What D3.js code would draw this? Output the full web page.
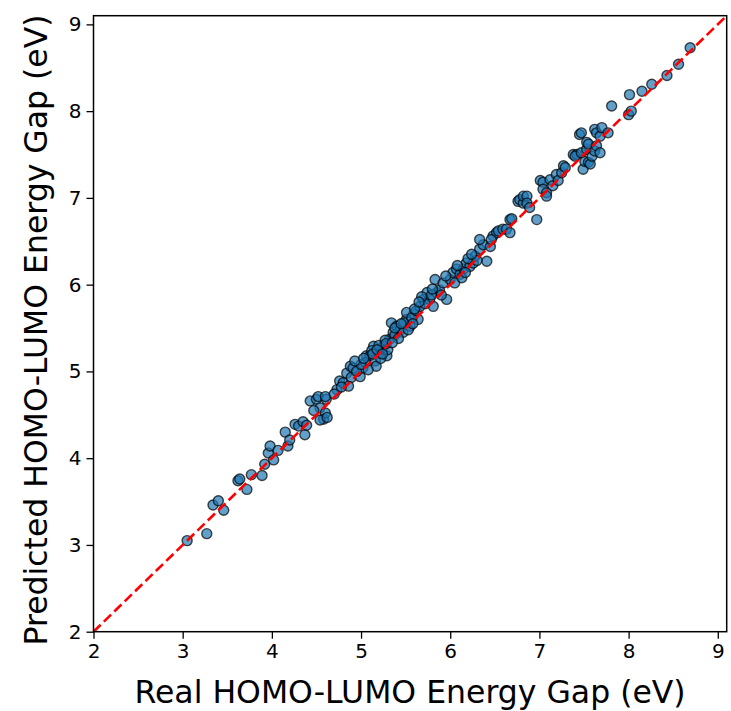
<!DOCTYPE html>
<html>
<head>
<meta charset="utf-8">
<script src="https://cdn.jsdelivr.net/npm/d3@7"></script>
<style>
  html, body { margin: 0; padding: 0; background: #fff; }
  svg { display: block; }
  text { font-family: "DejaVu Sans", sans-serif; fill: #000; }
</style>
</head>
<body>
<div id="chart"></div>
<script>
// ---- data ----
const realGap = [
  3.05, 3.27, 3.34, 3.40, 3.46, 3.62, 3.64, 3.72, 3.77, 3.89,
  3.92, 3.96, 3.98, 4.02, 4.07, 4.15, 4.18, 4.20, 4.26, 4.30,
  4.35, 4.37, 4.39, 4.43, 4.50, 4.52, 4.54, 4.58, 4.60, 4.61,
  4.60, 4.54, 4.62, 4.73, 4.76, 4.80, 4.84, 4.88, 4.91, 4.89,
  4.86, 4.99, 5.02, 5.06, 5.10, 5.16, 5.17, 5.14, 5.21, 5.25,
  5.29, 5.32, 5.36, 5.34, 5.40, 5.05, 5.12, 5.20, 5.27, 5.30,
  5.22, 5.38, 5.44, 5.47, 5.51, 5.55, 5.59, 5.51, 5.64, 5.48,
  5.42, 5.53, 5.57, 5.62, 5.66, 5.70, 5.74, 5.77, 5.81, 5.85,
  5.83, 5.88, 5.96, 5.92, 5.79, 5.72, 5.68, 6.00, 6.03, 6.07,
  6.11, 6.15, 6.18, 6.22, 6.26, 6.28, 6.33, 6.37, 6.33, 6.41,
  6.45, 6.48, 6.52, 6.05, 6.13, 6.20, 6.30, 6.54, 6.46, 6.59,
  6.63, 6.67, 6.67, 6.69, 6.76, 6.78, 6.82, 6.82, 6.86, 6.86,
  6.89, 6.97, 7.01, 7.04, 7.04, 7.08, 7.08, 7.12, 7.15, 7.19,
  7.21, 7.25, 7.27, 7.29, 7.38, 7.42, 7.40, 7.45, 7.47, 7.47,
  7.49, 7.51, 7.53, 7.53, 7.55, 7.55, 7.57, 7.59, 7.62, 7.62,
  7.64, 7.64, 7.68, 7.68, 7.70, 7.77, 7.81, 8.00, 8.03, 8.01,
  8.15, 8.26, 8.43, 8.56, 8.69,
  4.95, 5.00, 5.08, 5.13, 5.18, 5.24, 5.28, 5.35, 5.38, 5.45,
  5.58, 5.60, 5.65, 5.80, 5.90, 5.95, 6.08, 6.17, 6.24, 4.47,
  4.70, 4.78, 4.93, 5.03
];
const predictedGap = [
  3.05, 3.13, 3.46, 3.51, 3.40, 3.74, 3.76, 3.64, 3.81, 3.80,
  3.93, 4.06, 4.14, 3.98, 4.09, 4.30, 4.14, 4.21, 4.39, 4.37,
  4.42, 4.27, 4.38, 4.66, 4.68, 4.71, 4.58, 4.45, 4.52, 4.68,
  4.71, 4.44, 4.47, 4.79, 4.89, 4.87, 4.98, 5.06, 5.04, 4.93,
  4.83, 4.94, 5.04, 5.18, 5.18, 5.12, 5.06, 5.29, 5.21, 5.29,
  5.18, 5.37, 5.45, 5.56, 5.52, 5.10, 5.24, 5.30, 5.36, 5.25,
  5.15, 5.42, 5.48, 5.45, 5.60, 5.52, 5.66, 5.68, 5.60, 5.56,
  5.38, 5.48, 5.62, 5.70, 5.75, 5.83, 5.91, 5.83, 5.75, 5.91,
  6.06, 5.94, 5.83, 6.02, 5.88, 5.78, 5.86, 6.06, 6.14, 6.18,
  6.12, 6.18, 6.25, 6.21, 6.25, 6.33, 6.41, 6.46, 6.52, 6.27,
  6.44, 6.56, 6.60, 6.02, 6.08, 6.30, 6.28, 6.62, 6.52, 6.64,
  6.64, 6.60, 6.75, 6.76, 6.96, 6.98, 6.94, 7.02, 7.02, 6.94,
  6.89, 6.75, 7.20, 7.18, 7.10, 7.06, 7.02, 7.21, 7.14, 7.27,
  7.20, 7.29, 7.37, 7.35, 7.50, 7.50, 7.48, 7.73, 7.75, 7.52,
  7.33, 7.42, 7.56, 7.64, 7.62, 7.41, 7.39, 7.48, 7.54, 7.79,
  7.75, 7.60, 7.71, 7.52, 7.81, 7.75, 8.06, 7.96, 8.00, 8.19,
  8.23, 8.31, 8.41, 8.54, 8.73,
  5.00, 5.08, 5.02, 5.20, 5.25, 5.20, 5.32, 5.33, 5.50, 5.55,
  5.55, 5.72, 5.80, 5.95, 5.88, 6.10, 6.22, 6.14, 6.35, 4.55,
  4.74, 4.82, 5.12, 5.15
];
const xTicks = [2, 3, 4, 5, 6, 7, 8, 9];
const yTicks = [2, 3, 4, 5, 6, 7, 8, 9];
const axisDomain = [2, 9.1];
const xLabel = "Real HOMO-LUMO Energy Gap (eV)";
const yLabel = "Predicted HOMO-LUMO Energy Gap (eV)";

// ---- layout ----
const W = 731, H = 711;
const margin = { left: 93.5, right: 4.3, top: 15.7, bottom: 79.3 };
const iw = W - margin.left - margin.right;
const ih = H - margin.top - margin.bottom;

const svg = d3.select("#chart").append("svg")
  .attr("width", W).attr("height", H);
const g = svg.append("g").attr("transform", `translate(${margin.left},${margin.top})`);

const x = d3.scaleLinear().domain(axisDomain).range([0, iw]);
const y = d3.scaleLinear().domain(axisDomain).range([ih, 0]);

// points
const pts = realGap.map((v, i) => ({ x: v, y: predictedGap[i] }));
g.append("g").selectAll("circle").data(pts).join("circle")
  .attr("cx", d => x(d.x))
  .attr("cy", d => y(d.y))
  .attr("r", 5)
  .attr("fill", "#1f77b4")
  .attr("fill-opacity", 0.7)
  .attr("stroke", "#000")
  .attr("stroke-opacity", 0.7)
  .attr("stroke-width", 1.4);

// identity line
g.append("line")
  .attr("x1", x(axisDomain[0])).attr("y1", y(axisDomain[0]))
  .attr("x2", x(axisDomain[1])).attr("y2", y(axisDomain[1]))
  .attr("stroke", "#ff0000")
  .attr("stroke-width", 2.6)
  .attr("stroke-dasharray", "10,4.5");

// axes
const xAxis = g.append("g").attr("transform", `translate(0,${ih})`)
  .call(d3.axisBottom(x).tickValues(xTicks).tickFormat(d3.format("d")).tickSize(7).tickPadding(5));
const yAxis = g.append("g")
  .call(d3.axisLeft(y).tickValues(yTicks).tickFormat(d3.format("d")).tickSize(7).tickPadding(5));
[xAxis, yAxis].forEach(a => {
  a.select(".domain").remove();
  a.selectAll(".tick line").attr("stroke", "#000").attr("stroke-width", 1.3);
  a.selectAll(".tick text").attr("font-size", 20).attr("font-family", "DejaVu Sans").attr("fill", "#000");
});

// frame
g.append("rect").attr("x", 0).attr("y", 0).attr("width", iw).attr("height", ih)
  .attr("fill", "none").attr("stroke", "#000").attr("stroke-width", 1.5);

// labels
svg.append("text")
  .attr("x", margin.left + iw / 2).attr("y", 703)
  .attr("text-anchor", "middle").attr("font-size", 31.5)
  .text(xLabel);
svg.append("text")
  .attr("transform", `translate(47,330) rotate(-90)`)
  .attr("text-anchor", "middle").attr("font-size", 31.5)
  .text(yLabel);
</script>
</body>
</html>
